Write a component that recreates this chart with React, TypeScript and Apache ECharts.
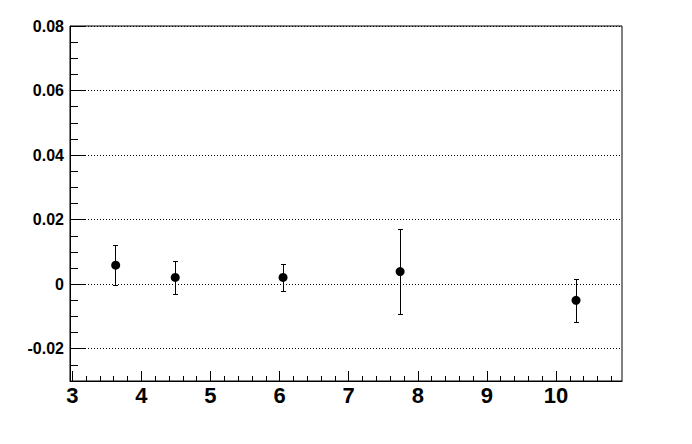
import React, { useEffect, useRef } from "react";
import * as echarts from "echarts";

// Data
const xValues = [3.628, 4.49, 6.05, 7.744, 10.29];
const yValues = [0.0059, 0.0021, 0.0021, 0.0039, -0.005];
const yErrors = [0.0061, 0.0052, 0.0043, 0.0131, 0.0066];

const X_MIN = 2.967;
const X_MAX = 10.955;
const Y_MIN = -0.03;
const Y_MAX = 0.08;

// layout
const GRID_LEFT = 70;
const GRID_TOP = 26;
const GRID_W = 552;
const GRID_H = 355;

const FONT = "'Liberation Sans', Arial, Helvetica, sans-serif";

export default function App() {
  const ref = useRef<HTMLDivElement>(null);

  useEffect(() => {
    if (!ref.current) return;
    const chart = echarts.init(ref.current, null, { renderer: "svg" });

    const pxPerUnit = GRID_W / (X_MAX - X_MIN);
    const minorXMin = 3;
    const minorXMax = 10.8;

    const points = xValues.map((x, i) => [x, yValues[i]]);
    const errData = xValues.map((x, i) => [x, yValues[i], yErrors[i]]);

    const option: any = {
      animation: false,
      backgroundColor: "#fff",
      grid: [
        {
          left: GRID_LEFT,
          top: GRID_TOP,
          width: GRID_W,
          height: GRID_H,
          show: true,
          borderColor: "#000",
          borderWidth: 1,
          backgroundColor: "transparent",
        },
        {
          left: GRID_LEFT + (minorXMin - X_MIN) * pxPerUnit,
          top: GRID_TOP,
          width: (minorXMax - minorXMin) * pxPerUnit,
          height: GRID_H,
          show: false,
        },
        {
          left: GRID_LEFT,
          top: GRID_TOP,
          width: GRID_W,
          height: GRID_H,
          show: false,
        },
      ],
      xAxis: [
        {
          type: "value",
          gridIndex: 0,
          min: X_MIN,
          max: X_MAX,
          splitNumber: 8,
          axisLine: { show: true, onZero: false, lineStyle: { color: "#000", width: 1 } },
          axisTick: { show: true, inside: true, length: 10, lineStyle: { color: "#000", width: 1 } },
          axisLabel: {
            show: true,
            showMinLabel: false,
            showMaxLabel: false,
            margin: 3,
            color: "#000",
            fontFamily: FONT,
            fontWeight: "bold",
            fontSize: 22,
            formatter: (v: number) => (Math.abs(v - Math.round(v)) < 1e-6 ? String(Math.round(v)) : ""),
          },
          splitLine: { show: false },
        },
        {
          type: "value",
          gridIndex: 1,
          min: minorXMin,
          max: minorXMax,
          interval: 0.2,
          axisLine: { show: false, onZero: false },
          axisTick: { show: true, inside: true, length: 5, lineStyle: { color: "#000", width: 1 } },
          axisLabel: { show: false },
          splitLine: { show: false },
        },
        {
          type: "value",
          gridIndex: 2,
          min: X_MIN,
          max: X_MAX,
          show: false,
        },
      ],
      yAxis: [
        {
          type: "value",
          gridIndex: 0,
          min: Y_MIN,
          max: Y_MAX,
          splitNumber: 5,
          axisLine: { show: true, onZero: false, lineStyle: { color: "#000", width: 1 } },
          axisTick: { show: true, inside: true, length: 15, lineStyle: { color: "#000", width: 1 } },
          axisLabel: {
            show: true,
            showMinLabel: false,
            margin: 6,
            color: "#000",
            fontFamily: FONT,
            fontWeight: "bold",
            fontSize: 16,
          },
          splitLine: { show: true, lineStyle: { color: "#000", width: 1, type: [1, 2] } },
        },
        {
          type: "value",
          gridIndex: 1,
          min: Y_MIN,
          max: Y_MAX,
          show: false,
        },
        {
          type: "value",
          gridIndex: 2,
          min: Y_MIN,
          max: Y_MAX,
          interval: 0.005,
          axisLine: { show: false, onZero: false },
          axisTick: { show: true, inside: true, length: 8, lineStyle: { color: "#000", width: 1 } },
          axisLabel: { show: false },
          splitLine: { show: false },
        },
      ],
      series: [
        {
          type: "custom",
          xAxisIndex: 0,
          yAxisIndex: 0,
          data: errData,
          encode: { x: 0, y: 1 },
          renderItem: (params: any, api: any) => {
            const x = api.value(0);
            const y = api.value(1);
            const e = api.value(2);
            const top = api.coord([x, y + e]);
            const bot = api.coord([x, y - e]);
            const cx = Math.floor(top[0]) + 0.5;
            const ty = Math.round(top[1]) + 0.5;
            const by = Math.round(bot[1]) + 0.5;
            const cap = 2.5;
            const style = { stroke: "#000", lineWidth: 1 };
            return {
              type: "group",
              children: [
                { type: "line", shape: { x1: cx, y1: ty, x2: cx, y2: by }, style },
                { type: "line", shape: { x1: cx - cap, y1: ty, x2: cx + cap, y2: ty }, style },
                { type: "line", shape: { x1: cx - cap, y1: by, x2: cx + cap, y2: by }, style },
              ],
            };
          },
          z: 3,
        },
        {
          type: "scatter",
          xAxisIndex: 0,
          yAxisIndex: 0,
          data: points,
          symbol: "circle",
          symbolSize: 9,
          itemStyle: { color: "#000", opacity: 1 },
          z: 4,
        },
      ],
    };

    chart.setOption(option);
    return () => chart.dispose();
  }, []);

  return (
    <div
      ref={ref}
      style={{ position: "fixed", left: 0, top: 0, width: 692, height: 444, background: "#fff" }}
    />
  );
}
